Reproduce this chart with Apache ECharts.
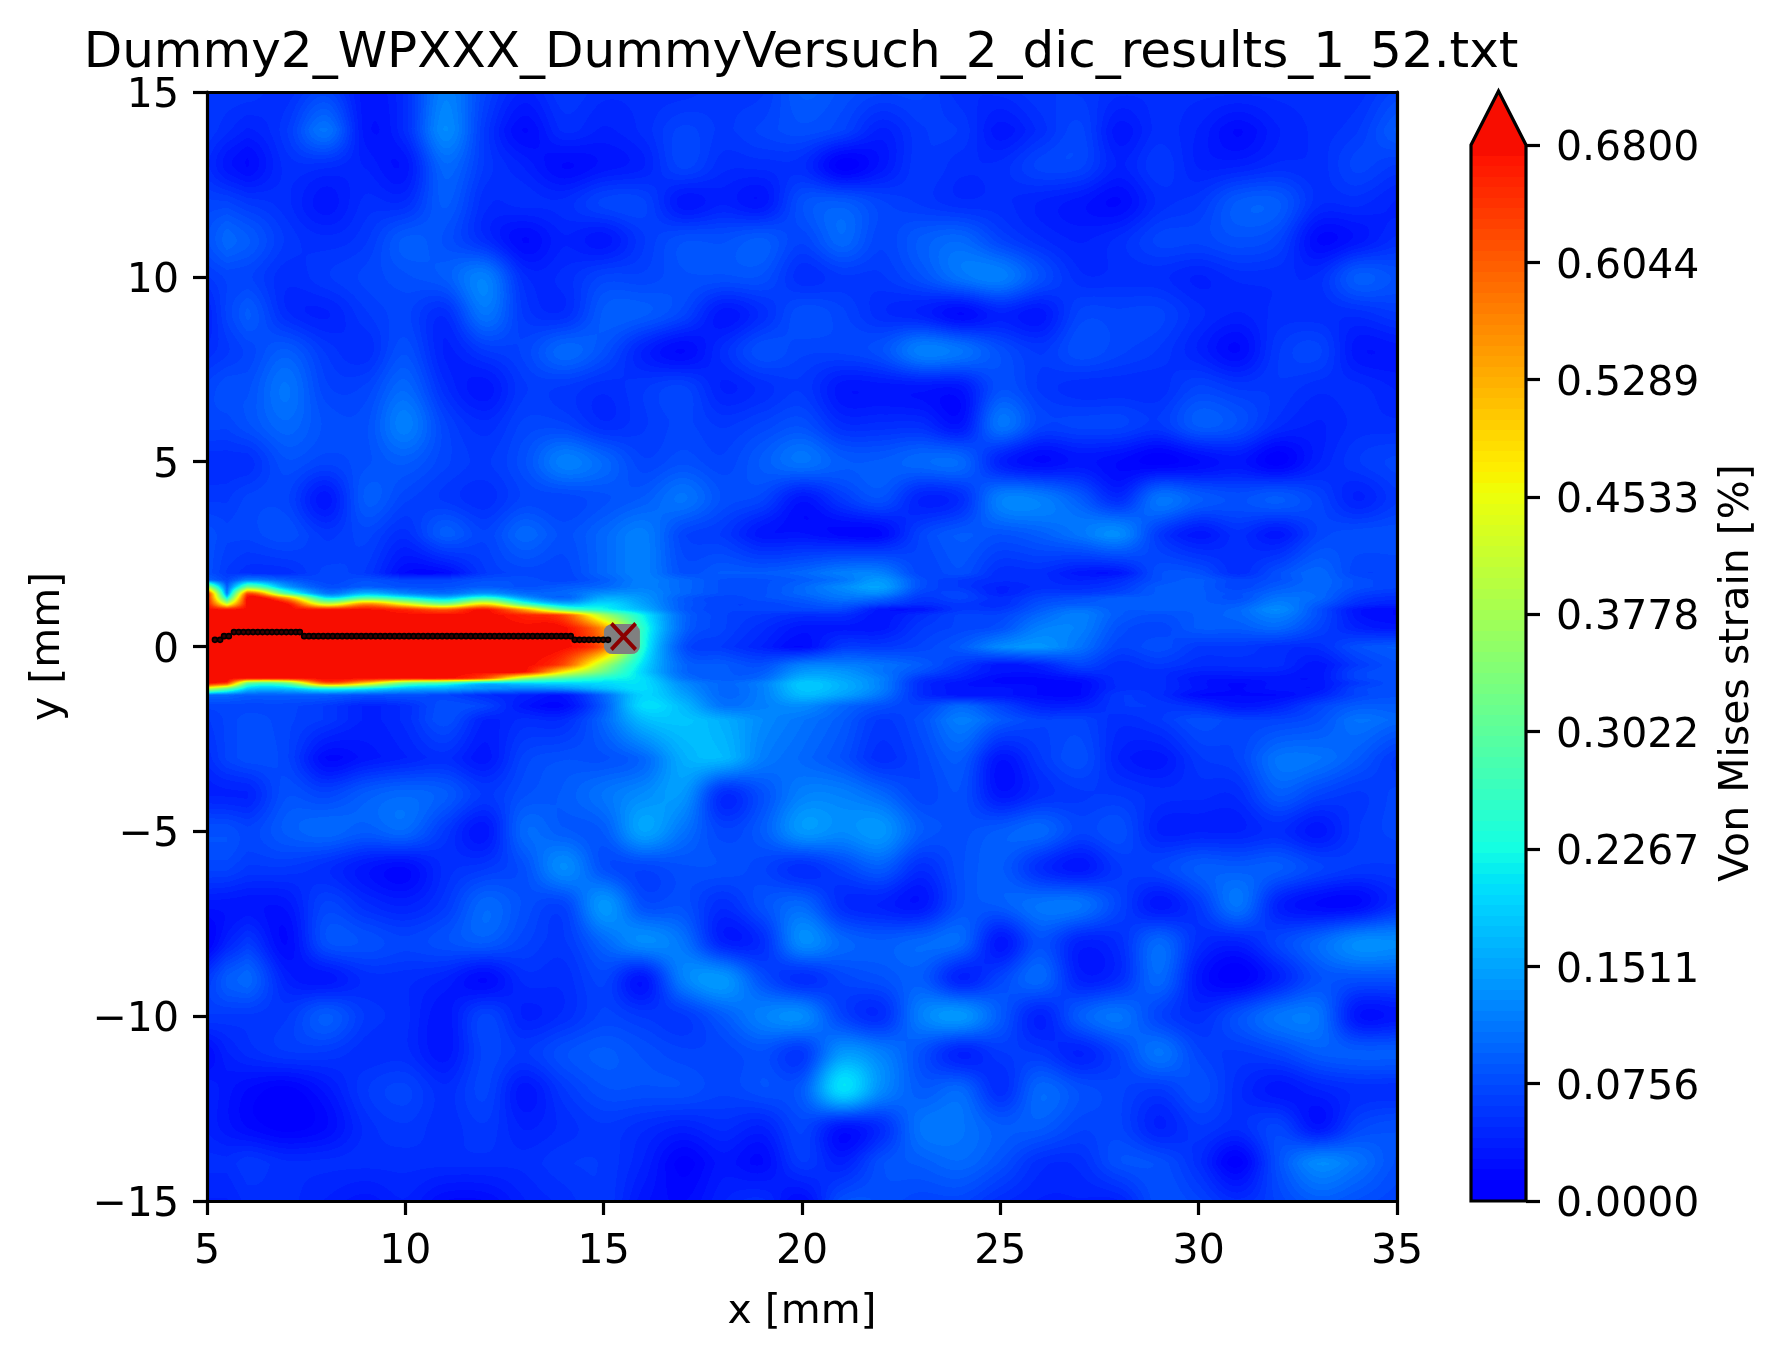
<!DOCTYPE html>
<html>
<head>
<meta charset="utf-8">
<title>Von Mises strain</title>
<style>html,body{margin:0;padding:0;background:#fff}#main{width:1789px;height:1361px}</style>
<script src="https://cdn.jsdelivr.net/npm/echarts@6/dist/echarts.min.js"></script>
</head>
<body>
<div id="main"></div>
<script>
var titleText = 'Dummy2_WPXXX_DummyVersuch_2_dic_results_1_52.txt';
var xTicks = [5, 10, 15, 20, 25, 30, 35];
var yTicks = [-15, -10, -5, 0, 5, 10, 15];
var colorbarTicks = [0, 0.0756, 0.1511, 0.2267, 0.3022, 0.3778, 0.4533, 0.5289, 0.6044, 0.68];

var xCols = [5, 5.5, 6, 7, 8, 9, 10, 11, 12, 13, 14, 15, 16, 17, 18, 19, 20, 21, 22, 23, 24, 25, 26, 27, 28, 29, 30, 31, 32, 33, 34, 35];
var yRows = [15, 14, 13, 12, 11, 10, 9, 8, 7, 6, 5, 4, 3, 2, 1.8, 1.6, 1.45, 1.3, 1.15, 1, 0.85, 0.5, 0, -0.5, -0.7, -0.85, -1, -1.15, -1.3, -1.6, -2, -3, -4, -5, -6, -7, -8, -9, -10, -11, -12, -13, -14, -15];

// one row per yRows entry, one value per xCols entry
var strainRows = [
[.06,.06,.06,.05,.07,.03,.05,.12,.07,.04,.06,.05,.05,.05,.06,.06,.09,.08,.07,.07,.05,.05,.06,.06,.05,.05,.05,.05,.05,.05,.05,.07],
[.06,.05,.04,.06,.11,.03,.05,.13,.06,.02,.05,.04,.05,.07,.06,.07,.08,.07,.04,.06,.06,.03,.05,.07,.03,.05,.04,.02,.04,.05,.06,.09],
[.05,.03,.02,.05,.05,.04,.03,.10,.06,.04,.02,.03,.04,.07,.05,.05,.05,.01,.03,.06,.05,.05,.07,.07,.04,.06,.04,.04,.05,.05,.07,.06],
[.07,.07,.06,.05,.03,.05,.05,.09,.05,.05,.05,.07,.07,.03,.04,.03,.08,.09,.07,.06,.05,.05,.04,.03,.02,.05,.06,.09,.09,.05,.05,.04],
[.08,.10,.09,.06,.05,.06,.09,.08,.05,.02,.04,.03,.06,.08,.08,.09,.07,.10,.07,.09,.10,.07,.05,.04,.05,.07,.07,.08,.07,.02,.03,.05],
[.06,.07,.07,.05,.06,.07,.08,.09,.12,.05,.05,.07,.07,.08,.08,.08,.05,.06,.06,.08,.11,.12,.08,.05,.05,.05,.04,.05,.05,.05,.09,.08],
[.04,.07,.09,.05,.04,.06,.07,.05,.11,.06,.05,.09,.09,.07,.03,.05,.08,.07,.05,.04,.02,.04,.03,.07,.07,.07,.05,.04,.05,.05,.05,.06],
[.05,.06,.07,.09,.06,.05,.08,.04,.06,.07,.10,.08,.04,.02,.05,.08,.07,.07,.08,.12,.11,.08,.06,.08,.07,.06,.04,.02,.06,.07,.03,.03],
[.07,.08,.08,.11,.07,.07,.10,.05,.03,.06,.06,.05,.06,.07,.04,.05,.06,.03,.03,.03,.03,.08,.06,.05,.05,.05,.07,.06,.06,.05,.05,.04],
[.07,.07,.08,.10,.08,.08,.12,.07,.05,.07,.07,.05,.06,.07,.06,.07,.08,.05,.05,.05,.03,.11,.07,.07,.07,.06,.09,.08,.05,.04,.05,.05],
[.05,.05,.05,.08,.07,.08,.09,.07,.06,.08,.12,.10,.07,.08,.07,.09,.11,.09,.09,.10,.10,.04,.02,.03,.02,.01,.02,.03,.01,.04,.06,.07],
[.06,.06,.07,.07,.03,.09,.07,.06,.05,.07,.07,.08,.09,.11,.08,.07,.03,.06,.08,.04,.05,.12,.12,.09,.05,.11,.09,.08,.09,.07,.04,.06],
[.08,.07,.07,.08,.06,.07,.05,.09,.07,.10,.08,.10,.12,.07,.06,.03,.03,.02,.02,.07,.09,.08,.09,.11,.13,.06,.03,.05,.03,.07,.08,.08],
[.08,.06,.05,.05,.07,.06,.02,.02,.06,.07,.07,.10,.12,.08,.09,.09,.10,.12,.12,.07,.08,.05,.05,.03,.03,.08,.08,.05,.08,.10,.07,.07],
[.10,.07,.12,.09,.07,.08,.07,.07,.08,.08,.07,.09,.12,.10,.08,.08,.09,.11,.14,.08,.06,.05,.05,.04,.05,.08,.09,.07,.08,.10,.08,.07],
[.40,.09,.32,.15,.08,.09,.08,.08,.09,.08,.09,.10,.12,.10,.08,.08,.10,.13,.15,.08,.06,.04,.05,.05,.06,.09,.09,.07,.09,.10,.08,.07],
[.66,.11,.60,.28,.11,.16,.12,.10,.13,.10,.10,.13,.13,.10,.08,.08,.10,.12,.13,.07,.07,.04,.06,.06,.07,.09,.09,.08,.10,.10,.07,.06],
[.68,.22,.68,.55,.22,.30,.24,.18,.26,.15,.10,.16,.14,.09,.07,.08,.09,.11,.10,.06,.07,.05,.07,.08,.09,.09,.09,.08,.11,.10,.06,.05],
[.68,.42,.68,.68,.42,.56,.45,.34,.48,.28,.17,.20,.15,.09,.07,.07,.08,.09,.07,.05,.06,.05,.08,.09,.09,.09,.09,.09,.12,.09,.05,.04],
[.68,.68,.68,.68,.68,.68,.66,.62,.68,.55,.33,.24,.17,.09,.07,.07,.07,.07,.03,.03,.06,.06,.09,.11,.09,.09,.09,.10,.13,.08,.03,.02],
[.68,.68,.68,.68,.68,.68,.68,.68,.68,.66,.62,.38,.22,.10,.07,.06,.05,.05,.03,.05,.07,.07,.10,.12,.09,.08,.09,.10,.12,.08,.03,.02],
[.68,.68,.68,.68,.68,.68,.68,.68,.68,.68,.68,.55,.25,.10,.07,.05,.03,.03,.03,.06,.07,.08,.12,.12,.08,.07,.09,.09,.10,.07,.04,.03],
[.68,.68,.68,.68,.68,.68,.68,.68,.68,.68,.68,.60,.24,.08,.06,.04,.02,.06,.06,.07,.09,.13,.14,.11,.07,.08,.06,.06,.05,.05,.08,.09],
[.68,.68,.68,.68,.68,.68,.68,.68,.68,.68,.62,.38,.20,.10,.09,.08,.12,.12,.11,.09,.06,.03,.04,.07,.05,.06,.05,.05,.05,.03,.06,.08],
[.68,.68,.68,.68,.68,.68,.68,.68,.68,.68,.47,.32,.19,.10,.09,.09,.14,.14,.11,.08,.05,.03,.03,.05,.05,.05,.04,.04,.04,.03,.07,.08],
[.68,.68,.68,.68,.68,.68,.68,.68,.62,.40,.30,.24,.20,.11,.09,.10,.16,.15,.12,.06,.04,.02,.02,.03,.05,.05,.03,.03,.03,.03,.07,.08],
[.68,.64,.33,.33,.60,.50,.33,.28,.20,.20,.20,.20,.20,.13,.10,.12,.18,.16,.12,.05,.03,.02,.02,.02,.05,.05,.03,.02,.03,.03,.06,.08],
[.40,.30,.18,.17,.22,.20,.16,.15,.13,.12,.13,.17,.20,.14,.10,.12,.18,.16,.12,.05,.03,.03,.02,.02,.05,.05,.03,.02,.03,.03,.07,.08],
[.10,.10,.09,.09,.09,.08,.08,.07,.05,.04,.03,.10,.19,.15,.10,.12,.17,.15,.11,.05,.03,.03,.02,.02,.06,.05,.02,.02,.02,.04,.07,.08],
[.07,.07,.07,.07,.06,.04,.05,.08,.07,.03,.02,.09,.20,.17,.11,.12,.13,.10,.08,.07,.10,.07,.04,.04,.06,.06,.05,.03,.04,.07,.09,.09],
[.06,.07,.08,.07,.06,.04,.05,.08,.04,.05,.05,.10,.17,.18,.16,.13,.11,.09,.06,.08,.12,.09,.07,.07,.05,.06,.08,.07,.07,.08,.11,.10],
[.05,.07,.08,.07,.02,.03,.04,.05,.03,.07,.08,.08,.10,.16,.17,.12,.10,.08,.05,.07,.09,.03,.06,.08,.04,.03,.06,.07,.11,.11,.09,.06],
[.04,.04,.04,.08,.07,.09,.10,.09,.06,.08,.09,.11,.13,.14,.05,.08,.12,.12,.10,.07,.08,.03,.05,.06,.06,.05,.05,.05,.09,.07,.06,.07],
[.08,.08,.07,.09,.10,.09,.10,.06,.03,.10,.09,.09,.15,.11,.07,.09,.14,.13,.14,.09,.08,.09,.10,.07,.08,.04,.04,.04,.05,.03,.06,.07],
[.07,.07,.06,.06,.05,.03,.02,.05,.06,.08,.13,.08,.07,.08,.08,.07,.05,.07,.09,.05,.08,.09,.05,.03,.06,.07,.09,.09,.09,.07,.06,.06],
[.03,.03,.03,.03,.07,.05,.04,.06,.10,.08,.07,.14,.08,.08,.05,.08,.10,.05,.04,.03,.08,.09,.11,.11,.07,.03,.06,.11,.04,.02,.02,.05],
[.01,.04,.06,.02,.08,.08,.07,.08,.09,.07,.06,.10,.13,.11,.04,.05,.13,.10,.09,.10,.10,.03,.08,.04,.05,.10,.05,.04,.07,.10,.13,.13],
[.06,.09,.10,.04,.03,.05,.05,.04,.02,.05,.05,.07,.03,.12,.14,.08,.05,.07,.08,.09,.04,.07,.10,.04,.05,.10,.03,.01,.04,.08,.08,.08],
[.06,.06,.06,.06,.09,.06,.05,.03,.07,.04,.05,.07,.06,.06,.09,.12,.13,.07,.05,.12,.14,.09,.04,.09,.11,.07,.05,.08,.11,.11,.03,.03],
[.02,.04,.05,.06,.06,.05,.05,.03,.07,.06,.08,.09,.08,.07,.07,.08,.06,.14,.12,.08,.04,.06,.06,.04,.07,.11,.07,.06,.07,.09,.09,.09],
[.04,.03,.02,.01,.03,.06,.07,.05,.07,.03,.06,.08,.08,.08,.07,.08,.09,.20,.13,.09,.10,.05,.10,.08,.07,.06,.08,.05,.03,.04,.05,.05],
[.04,.03,.02,.01,.02,.05,.06,.05,.06,.04,.05,.06,.05,.04,.05,.04,.07,.03,.05,.11,.11,.09,.09,.07,.07,.04,.06,.05,.07,.03,.07,.08],
[.05,.05,.06,.05,.05,.05,.05,.05,.05,.05,.06,.06,.04,.01,.03,.02,.06,.04,.08,.09,.10,.08,.05,.05,.08,.08,.05,.01,.08,.13,.11,.08],
[.04,.04,.05,.05,.04,.03,.04,.02,.02,.04,.05,.06,.03,.02,.04,.05,.02,.08,.08,.07,.07,.05,.04,.04,.04,.08,.07,.05,.07,.09,.08,.07]
];

var crackX = [5.20,5.33,5.43,5.55,5.68,5.80,5.92,6.04,6.16,6.28,6.40,6.52,6.64,6.76,6.88,7.00,7.12,7.24,7.34,7.45,7.57,7.69,7.81,7.93,8.05,8.17,8.29,8.41,8.53,8.65,8.77,8.89,9.01,9.13,9.25,9.37,9.49,9.61,9.73,9.85,9.97,10.09,10.21,10.33,10.45,10.57,10.69,10.81,10.93,11.05,11.17,11.29,11.41,11.53,11.65,11.77,11.89,12.01,12.13,12.25,12.37,12.49,12.61,12.73,12.85,12.97,13.09,13.21,13.33,13.45,13.57,13.69,13.81,13.93,14.05,14.17,14.27,14.39,14.51,14.63,14.75,14.87,14.99,15.11];
var crackY = [.18,.18,.28,.28,.39,.39,.39,.39,.39,.39,.39,.39,.39,.39,.39,.39,.39,.39,.39,.28,.28,.28,.28,.28,.28,.28,.28,.28,.28,.28,.28,.28,.28,.28,.28,.28,.28,.28,.28,.28,.28,.28,.28,.28,.28,.28,.28,.28,.28,.28,.28,.28,.28,.28,.28,.28,.28,.28,.28,.28,.28,.28,.28,.28,.28,.28,.28,.28,.28,.28,.28,.28,.28,.28,.28,.28,.18,.18,.18,.18,.18,.18,.18,.18];
var tipPatch = [15.46, 0.2];
var tipCross = [15.5, 0.27];

var strainMax = 0.68;
var bandCount = 100;
var arrowTip = 0.7148;
var fontName = 'DejaVu Sans';

/* colormap: the jet segments, used from 0.11 to 0.9 */
var jetR = [[0, 0], [.35, 0], [.66, 1], [.89, 1], [1, .5]];
var jetG = [[0, 0], [.125, 0], [.375, 1], [.64, 1], [.91, 0], [1, 0]];
var jetB = [[0, .5], [.11, 1], [.34, 1], [.65, 0], [1, 0]];

function segment(table, t) {
	for (var i = 1; i < table.length; i++) {
		if (t <= table[i][0]) {
			var a = table[i - 1], b = table[i];
			return a[1] + (b[1] - a[1]) * (t - a[0]) / (b[0] - a[0]);
		}
	}
	return table[table.length - 1][1];
}

var bandColors = [];
for (var k = 0; k < bandCount; k++) {
	var tt = 0.11 + 0.79 * (k + 0.5) / bandCount;
	bandColors.push([
		Math.round(255 * segment(jetR, tt)),
		Math.round(255 * segment(jetG, tt)),
		Math.round(255 * segment(jetB, tt))
	]);
}

function bandOf(v) {
	var b = Math.floor(v / strainMax * bandCount);
	return b < 0 ? 0 : (b >= bandCount ? bandCount - 1 : b);
}

/* one item for every grid node, the cell is the node and its right/lower neighbours */
var fieldData = [];
yRows.forEach(function (y, j) {
	xCols.forEach(function (x, i) {
		fieldData.push([x, y, strainRows[j][i], i, j]);
	});
});

function cubic(a, b, c, d, f) {
	return b + 0.5 * f * (c - a + f * (2 * a - 5 * b + 4 * c - d + f * (3 * (b - c) + d - a)));
}

function clampIndex(n, len) {
	return n < 0 ? 0 : (n >= len ? len - 1 : n);
}

// shading inside one row, linear on the uneven columns at the left edge
function sampleRow(j, i, fx) {
	var r = strainRows[j];
	if (i < 2) return r[i] * (1 - fx) + r[i + 1] * fx;
	return cubic(r[i - 1], r[i], r[i + 1], r[clampIndex(i + 2, r.length)], fx);
}

// shading across rows, linear where the rows are unevenly spaced around the crack
function evenRows(j) {
	if (j < 1 || j + 2 >= yRows.length) return false;
	var d = yRows[j] - yRows[j + 1];
	return Math.abs(yRows[j - 1] - yRows[j] - d) < 1e-6 && Math.abs(yRows[j + 1] - yRows[j + 2] - d) < 1e-6;
}

function renderCell(params, api) {
	var i = api.value(3), j = api.value(4);
	if (i >= xCols.length - 1 || j >= yRows.length - 1) return null;
	var p0 = api.coord([xCols[i], yRows[j]]);
	var p1 = api.coord([xCols[i + 1], yRows[j + 1]]);
	var x0 = Math.round(p0[0]), y0 = Math.round(p0[1]);
	var w = Math.round(p1[0]) - x0, h = Math.round(p1[1]) - y0;
	var even = evenRows(j);
	var cv = document.createElement('canvas');
	cv.width = w;
	cv.height = h;
	var c2 = cv.getContext('2d');
	var img = c2.createImageData(w, h);
	for (var px = 0; px < w; px++) {
		var fx = (px + 0.5) / w;
		var r1 = sampleRow(j, i, fx), r2 = sampleRow(j + 1, i, fx);
		var r0 = even ? sampleRow(j - 1, i, fx) : 0;
		var r3 = even ? sampleRow(j + 2, i, fx) : 0;
		for (var py = 0; py < h; py++) {
			var fy = (py + 0.5) / h;
			var v = even ? cubic(r0, r1, r2, r3, fy) : r1 * (1 - fy) + r2 * fy;
			var c = bandColors[bandOf(v)];
			var o = (py * w + px) * 4;
			img.data[o] = c[0];
			img.data[o + 1] = c[1];
			img.data[o + 2] = c[2];
			img.data[o + 3] = 255;
		}
	}
	c2.putImageData(img, 0, 0);
	return {
		type: 'image',
		style: { image: cv, x: x0, y: y0, width: w, height: h }
	};
}

/* colorbar bands */
var barBands = [];
for (var n = 0; n < bandCount; n++) {
	barBands.push([0, strainMax * n / bandCount, n]);
}

function renderBand(params, api) {
	var n = api.value(2);
	var a = api.coord([0, strainMax * n / bandCount]);
	var b = api.coord([1, strainMax * (n + 1) / bandCount]);
	var c = bandColors[n];
	var top = Math.round(b[1]), bottom = Math.round(a[1]);
	return {
		type: 'rect',
		shape: { x: a[0], y: top, width: b[0] - a[0], height: bottom - top },
		style: { fill: 'rgb(' + c.join(',') + ')' }
	};
}

function renderBarFrame(params, api) {
	var last = bandColors[bandCount - 1];
	var pts = [
		api.coord([0, 0]), api.coord([0, strainMax]), api.coord([0.5, arrowTip]),
		api.coord([1, strainMax]), api.coord([1, 0])
	];
	return {
		type: 'group',
		children: [{
			type: 'polygon',
			shape: { points: [pts[1], pts[2], pts[3]] },
			style: { fill: 'rgb(' + last.join(',') + ')' }
		}, {
			type: 'polygon',
			shape: { points: pts },
			style: { fill: 'none', stroke: '#000', lineWidth: 3.2, lineJoin: 'miter' }
		}]
	};
}

var tickFont = { fontFamily: fontName, fontSize: 41, color: '#000' };
// tick labels on the vertical axes sit a little under their tick
var shiftedRich = { t: { fontFamily: fontName, fontSize: 41, color: '#000', padding: [9, 0, 0, 0] } };
var axisLineBlack = { show: true, onZero: false, lineStyle: { color: '#000', width: 3.2 } };
var tickBlack = { show: true, length: 14, lineStyle: { color: '#000', width: 3.2 } };
function signed(v) {
	return String(v).replace('-', '\u2212');
}

var chart = echarts.init(document.getElementById('main'), null, { renderer: 'canvas', devicePixelRatio: 1 });
chart.setOption({
	animation: false,
	backgroundColor: '#fff',
	title: {
		text: titleText,
		left: 796,
		top: 24,
		textAlign: 'center',
		textStyle: { fontFamily: fontName, fontSize: 50, fontWeight: 'normal', color: '#000' }
	},
	grid: [
		{ left: 207, top: 92, width: 1190, height: 1109 },
		{ left: 1471, top: 145, width: 55, height: 1056 }
	],
	xAxis: [{
		gridIndex: 0, type: 'value', min: 5, max: 35, interval: 5, position: 'bottom', z: 5,
		name: 'x [mm]', nameLocation: 'middle', nameGap: 91,
		nameTextStyle: tickFont,
		axisLine: axisLineBlack, axisTick: tickBlack,
		axisLabel: Object.assign({ margin: 31, customValues: xTicks, formatter: signed }, tickFont),
		splitLine: { show: false }
	}, {
		gridIndex: 0, type: 'value', min: 5, max: 35, position: 'top', z: 5,
		axisLine: axisLineBlack, axisTick: { show: false }, axisLabel: { show: false }, splitLine: { show: false }
	}, {
		gridIndex: 1, type: 'value', min: 0, max: 1, show: false
	}],
	yAxis: [{
		gridIndex: 0, type: 'value', min: -15, max: 15, interval: 5, position: 'left', z: 5,
		name: 'y [mm]', nameLocation: 'middle', nameGap: 138,
		nameTextStyle: tickFont,
		axisLine: axisLineBlack, axisTick: tickBlack,
		axisLabel: {
			margin: 28,
			customValues: yTicks,
			formatter: function (v) { return '{t|' + signed(v) + '}'; },
			rich: shiftedRich
		},
		splitLine: { show: false }
	}, {
		gridIndex: 0, type: 'value', min: -15, max: 15, position: 'right', z: 5,
		axisLine: axisLineBlack, axisTick: { show: false }, axisLabel: { show: false }, splitLine: { show: false }
	}, {
		gridIndex: 1, type: 'value', min: 0, max: strainMax, position: 'right', z: 5,
		name: 'Von Mises strain [%]', nameLocation: 'middle', nameGap: 191, nameRotate: 90,
		nameTextStyle: tickFont,
		axisLine: { show: false, onZero: false },
		axisTick: { show: true, length: 14, customValues: colorbarTicks, lineStyle: { color: '#000', width: 3.2 } },
		axisLabel: {
			margin: 30,
			customValues: colorbarTicks,
			formatter: function (v) { return '{t|' + v.toFixed(4) + '}'; },
			rich: shiftedRich
		},
		splitLine: { show: false }
	}],
	series: [{
		type: 'custom', name: 'field', xAxisIndex: 0, yAxisIndex: 0, z: 2,
		renderItem: renderCell,
		encode: { x: 0, y: 1 },
		silent: true,
		data: fieldData
	}, {
		type: 'scatter', name: 'tip patch', xAxisIndex: 0, yAxisIndex: 0, z: 3,
		symbol: 'roundRect', symbolSize: [36, 30],
		itemStyle: { color: '#808080', opacity: 1 },
		silent: true,
		data: [tipPatch]
	}, {
		type: 'scatter', name: 'crack path', xAxisIndex: 0, yAxisIndex: 0, z: 4,
		symbol: 'circle', symbolSize: 5,
		itemStyle: { color: '#3a0000', borderColor: '#000', borderWidth: 1.6, opacity: 1 },
		silent: true,
		data: crackX.map(function (x, i) { return [x, crackY[i]]; })
	}, {
		type: 'scatter', name: 'crack tip', xAxisIndex: 0, yAxisIndex: 0, z: 4,
		symbol: 'path://M1,0L5,4L9,0L10,1L6,5L10,9L9,10L5,6L1,10L0,9L4,5L0,1Z',
		symbolSize: [27, 29],
		itemStyle: { color: '#8b0000', opacity: 1 },
		silent: true,
		data: [tipCross]
	}, {
		type: 'custom', name: 'colorbar', xAxisIndex: 2, yAxisIndex: 2, z: 2,
		renderItem: renderBand,
		encode: { x: 0, y: 1 },
		silent: true,
		data: barBands
	}, {
		type: 'custom', name: 'colorbar frame', xAxisIndex: 2, yAxisIndex: 2, z: 3,
		renderItem: renderBarFrame,
		encode: { x: 0, y: 1 },
		silent: true,
		data: [[0, 0]]
	}]
});
</script>
</body>
</html>
